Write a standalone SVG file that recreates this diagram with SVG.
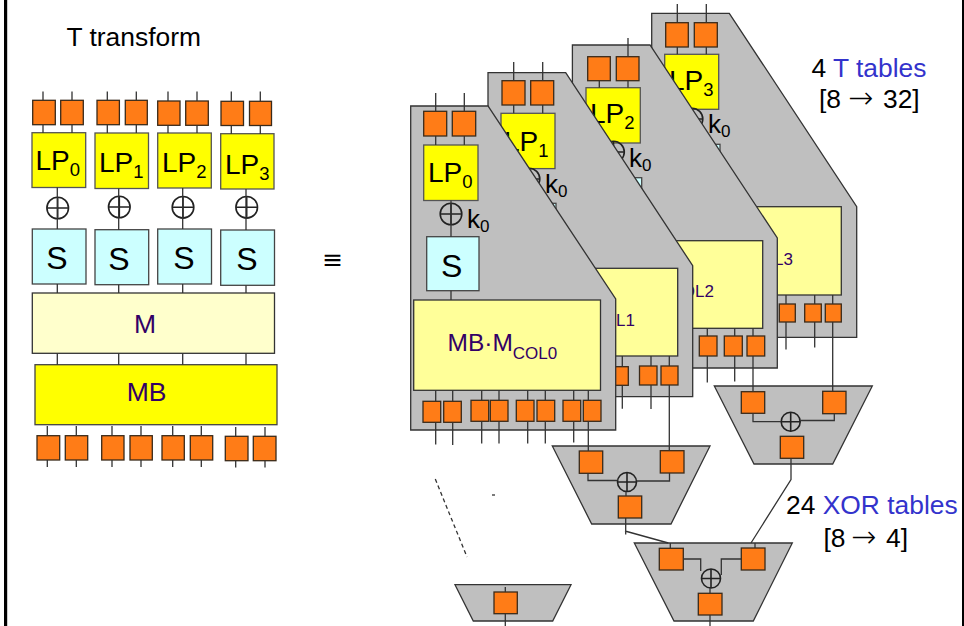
<svg xmlns="http://www.w3.org/2000/svg" xmlns:xlink="http://www.w3.org/1999/xlink" width="964" height="626" viewBox="0 0 964 626">
<style>
text{font-family:"Liberation Sans",Arial,sans-serif;fill:#000}
.t{font-size:26.4px}
.lp{font-size:28px}
.s{font-size:32px;text-anchor:middle}
.k{font-size:26px}
.pu{fill:#330066}
.bl{fill:#3333cc}
.dj{font-family:"DejaVu Sans",sans-serif}
.ar{font-family:"DejaVu Sans Light","DejaVu Sans ExtraLight","DejaVu Sans",sans-serif;font-weight:200}
.o{fill:#ff7c17;stroke:#3a2a1a;stroke-width:1.3}
.y{fill:#ffff00;stroke:#555;stroke-width:1.3}
.c{fill:#ccffff;stroke:#444;stroke-width:1.3}
.m{fill:#ffffcc;stroke:#333;stroke-width:1.3}
.mb{fill:#ffff00;stroke:#444;stroke-width:1.3}
.h{fill:#ffff99;stroke:#333;stroke-width:1.3}
.p{fill:#bfbfbf;stroke:#333;stroke-width:1.3}
.x{fill:none;stroke:#222;stroke-width:1.6}
.l{fill:none;stroke:#333;stroke-width:1.3}
</style>
<defs>
<g id="xor" class="x"><circle r="10.8"/><path d="M-10.8 0H10.8M0-10.8V10.8"/></g>
<g id="xs" class="x"><circle r="9.5"/><path d="M-9.5 0H9.5M0-9.5V9.5"/></g>
</defs>
<rect width="964" height="626" fill="#fff"/>
<g id="frame" fill="#000"><rect x="4" y="0" width="3.2" height="626"/><rect x="962" y="0" width="2" height="626"/></g>

<g id="title"><text class="t" x="66.5" y="46">T transform</text></g>

<g id="left-inputs">
<rect class="o" x="32.7" y="100.3" width="22.6" height="24.4"/><rect class="o" x="60.7" y="100.3" width="22.6" height="24.4"/>
<rect class="o" x="97" y="100.3" width="22.4" height="24.4"/><rect class="o" x="125.3" y="100.3" width="22" height="24.4"/>
<rect class="o" x="157.7" y="101" width="22.3" height="24.3"/><rect class="o" x="185.7" y="101" width="22.6" height="24.3"/>
<rect class="o" x="221" y="101.3" width="22.5" height="24.2"/><rect class="o" x="249.5" y="101.3" width="22" height="24.2"/>
</g>
<g id="left-lp0"><rect class="y" x="32" y="132.7" width="53.7" height="54.8"/><text class="lp" x="35.5" y="170">LP<tspan font-size="18.5" dy="6">0</tspan></text></g>
<g id="left-lp1"><rect class="y" x="95" y="133" width="53.5" height="55.5"/><text class="lp" x="99" y="171.5">LP<tspan font-size="18.5" dy="6">1</tspan></text></g>
<g id="left-lp2"><rect class="y" x="157.7" y="133" width="53.6" height="55"/><text class="lp" x="162" y="172">LP<tspan font-size="18.5" dy="6">2</tspan></text></g>
<g id="left-lp3"><rect class="y" x="220.7" y="133.7" width="53.3" height="55.3"/><text class="lp" x="225" y="174">LP<tspan font-size="18.5" dy="6">3</tspan></text></g>
<g id="left-xor"><use xlink:href="#xor" href="#xor" x="57.7" y="208"/><use xlink:href="#xor" href="#xor" x="119.3" y="207"/><use xlink:href="#xor" href="#xor" x="183" y="207.3"/><use xlink:href="#xor" href="#xor" x="246.7" y="207.3"/></g>
<g id="left-s0"><rect class="c" x="32.3" y="229" width="53.7" height="55"/><text class="s" x="57" y="269">S</text></g>
<g id="left-s1"><rect class="c" x="95" y="229.7" width="53.7" height="55"/><text class="s" x="119" y="269.5">S</text></g>
<g id="left-s2"><rect class="c" x="157.7" y="229" width="53.8" height="55"/><text class="s" x="184" y="269">S</text></g>
<g id="left-s3"><rect class="c" x="220.7" y="230" width="53.8" height="55.3"/><text class="s" x="247" y="269.5">S</text></g>
<g id="left-m"><rect class="m" x="32.3" y="293" width="242.2" height="60.3"/><text class="pu" x="145" y="333" font-size="26.5" text-anchor="middle">M</text></g>
<g id="left-mb"><rect class="mb" x="35" y="364.7" width="242" height="60"/><text class="pu" x="146.5" y="401" font-size="26.5" text-anchor="middle">MB</text></g>
<g id="left-outputs">
<rect class="o" x="37" y="435.7" width="22.7" height="24.3"/><rect class="o" x="65.3" y="435.7" width="22.4" height="24.3"/>
<rect class="o" x="101.7" y="435.7" width="22.3" height="24.3"/><rect class="o" x="130" y="435.7" width="22.3" height="24.3"/>
<rect class="o" x="162" y="435.7" width="22.3" height="24.3"/><rect class="o" x="190.3" y="435.7" width="22.4" height="24.3"/>
<rect class="o" x="225.3" y="436.3" width="22.7" height="24.4"/><rect class="o" x="253.3" y="436.3" width="22.7" height="24.4"/>
</g>

<g id="equiv"><text class="dj" x="332.7" y="268" font-size="25" text-anchor="middle">≡</text></g>

<g id="t-table-3">
<polygon class="p" points="651.7,13.3 729.3,13.3 856.7,206.7 856.7,337.3 651.7,337.3"/>
<rect class="o" x="665.7" y="22.7" width="22.6" height="24.3"/><rect class="o" x="694.3" y="22.7" width="23" height="24.3"/>
<rect class="y" x="664.7" y="54.3" width="54" height="55"/><text class="lp" x="669" y="90">LP<tspan font-size="18.5" dy="6">3</tspan></text>
<use xlink:href="#xor" href="#xor" x="692" y="119"/><text class="k" x="708" y="133">k<tspan font-size="17" dy="4">0</tspan></text>
<rect class="c" x="667.7" y="144.3" width="52.3" height="54"/>
<rect class="h" x="654.7" y="206.7" width="186.6" height="88.3"/>
<text class="pu" x="793" y="257" font-size="24.5" text-anchor="end">MB·M<tspan font-size="17" dy="8">COL3</tspan></text>
<rect class="o" x="779.3" y="304" width="16" height="18"/><rect class="o" x="804.7" y="304" width="16.6" height="18"/><rect class="o" x="825.3" y="304" width="16" height="18"/>
</g>

<g id="t-table-2">
<polygon class="p" points="572.4,45 650,45 777.3,238 777.3,368 572.4,368"/>
<rect class="o" x="587.7" y="56.7" width="22.6" height="24"/><rect class="o" x="616.3" y="56.7" width="22.7" height="24"/>
<rect class="y" x="586" y="87.7" width="54.3" height="55.3"/><text class="lp" x="590" y="123.3">LP<tspan font-size="18.5" dy="6">2</tspan></text>
<use xlink:href="#xor" href="#xor" x="613.5" y="152"/><text class="k" x="629" y="167">k<tspan font-size="17" dy="4">0</tspan></text>
<rect class="c" x="589.4" y="177.7" width="52.3" height="54"/>
<rect class="h" x="576" y="240.7" width="186.7" height="87.6"/>
<text class="pu" x="714" y="289" font-size="24.5" text-anchor="end">MB·M<tspan font-size="17" dy="8">COL2</tspan></text>
<rect class="o" x="699.3" y="336" width="17.7" height="20"/><rect class="o" x="724.3" y="336" width="18" height="20"/><rect class="o" x="747" y="336" width="17.7" height="20"/>
</g>

<g id="t-table-1">
<polygon class="p" points="488,72.7 565.7,72.7 692.7,265.7 692.7,396.7 488,396.7"/>
<rect class="o" x="502" y="80.7" width="23" height="24.3"/><rect class="o" x="530.7" y="80.7" width="23" height="24.3"/>
<rect class="y" x="501" y="113.3" width="54" height="55.3"/><text class="lp" x="504" y="150.7">LP<tspan font-size="18.5" dy="6">1</tspan></text>
<use xlink:href="#xor" href="#xor" x="529" y="179"/><text class="k" x="545" y="193">k<tspan font-size="17" dy="4">0</tspan></text>
<rect class="c" x="503.7" y="203.3" width="52.3" height="54"/>
<rect class="h" x="491" y="268.3" width="186.7" height="87.7"/>
<text class="pu" x="635" y="318" font-size="24.5" text-anchor="end">MB·M<tspan font-size="17" dy="8">COL1</tspan></text>
<rect class="o" x="610.5" y="366.7" width="17.8" height="18.6"/><rect class="o" x="639.5" y="366" width="17.5" height="19"/><rect class="o" x="661" y="366" width="17" height="19"/>
</g>

<g id="t-table-0">
<polygon class="p" points="410.7,106 488,106 615.7,299 615.7,430 410.7,430"/>
<rect class="o" x="423.7" y="111.3" width="23" height="24.7"/><rect class="o" x="452.3" y="111.3" width="23.4" height="24.7"/>
<rect class="y" x="423.7" y="145" width="54.3" height="55.5"/><text class="lp" x="428" y="181.7">LP<tspan font-size="18.5" dy="6">0</tspan></text>
<use xlink:href="#xor" href="#xor" x="451" y="214"/><text class="k" x="467" y="228">k<tspan font-size="17" dy="4">0</tspan></text>
<rect class="c" x="426.7" y="236.7" width="52.3" height="54"/><text class="s" x="451.7" y="276.7">S</text>
<rect class="h" x="413.7" y="300" width="186.8" height="90.3"/>
<text class="pu" x="447.5" y="350.7" font-size="24.5">MB·M<tspan font-size="17" dy="8">COL0</tspan></text>
<rect class="o" x="423" y="401.3" width="17.7" height="21"/><rect class="o" x="443.7" y="401.3" width="17.6" height="21"/>
<rect class="o" x="471" y="400.3" width="17.7" height="21"/><rect class="o" x="490.3" y="400.3" width="17.7" height="21"/>
<rect class="o" x="516.3" y="400.3" width="17.7" height="21"/><rect class="o" x="537" y="400.3" width="17.7" height="21"/>
<rect class="o" x="563" y="400.3" width="17.7" height="21"/><rect class="o" x="583.3" y="400.3" width="17.7" height="21"/>
</g>

<g id="xor-table-a">
<polygon class="p" points="714.3,386 872.3,386 832.7,464 754,464"/>
<rect class="o" x="741.3" y="391.7" width="23.4" height="21.6"/><rect class="o" x="822.7" y="391.3" width="23.3" height="22.4"/>
<use xlink:href="#xs" href="#xs" x="790.7" y="421.7"/>
<rect class="o" x="780.3" y="436.3" width="23.4" height="22"/>
</g>
<g id="xor-table-b">
<polygon class="p" points="552.3,446 710,446 671,524 591.7,524"/>
<rect class="o" x="579.3" y="451" width="23.4" height="22.3"/><rect class="o" x="660.3" y="450.7" width="23.7" height="22.3"/>
<use xlink:href="#xs" href="#xs" x="627" y="482"/>
<rect class="o" x="618.3" y="496" width="23.4" height="22"/>
</g>
<g id="xor-table-c">
<polygon class="p" points="634.3,543 792.3,543 753.3,621 674,621"/>
<rect class="o" x="659.3" y="548.3" width="24" height="21.7"/><rect class="o" x="741.3" y="548" width="23.7" height="22"/>
<use xlink:href="#xs" href="#xs" x="711" y="578.5"/>
<rect class="o" x="698.3" y="593.3" width="23.7" height="21.7"/>
</g>
<g id="xor-table-d">
<polygon class="p" points="455,584.7 571,584.7 552.7,621 473.3,621"/>
<rect class="o" x="494" y="592" width="23.3" height="21.7"/>
</g>

<g id="labels">
<text x="811.5" y="76.7" font-size="26.4">4 <tspan class="bl">T tables</tspan></text>
<text x="819" y="108" font-size="26.4">[8 <tspan class="ar" x="848" font-size="30">→</tspan><tspan x="883">32]</tspan></text>
<text x="786" y="514.3" font-size="26.4">24 <tspan class="bl">XOR tables</tspan></text>
<text x="823.5" y="547" font-size="26.4">[8 <tspan class="ar" x="851" font-size="30">→</tspan><tspan x="886">4]</tspan></text>
</g>

<g id="connectors" class="l">
<path d="M43 91.5V100M72 91.5V100M107.3 91.5V100M136.3 91.5V100M168 91.5V101M197 91.5V101M231.3 91.5V101M260.3 91.5V101"/>
<path d="M43 125V133M72 125V133M107.3 125V133M136.3 125V133M168 125V133M197 125V133M231.3 125.5V134M260.3 125.5V134"/>
<path d="M57.3 187.5V229M118.7 188.5V230M182.7 188V229M246 189V230"/>
<path d="M57.3 284V293M118.7 284.7V293M182.7 284V293M246 285.3V293"/>
<path d="M57.3 353.3V364.7M118.7 353.3V364.7M182.7 353.3V364.7M246 353.3V364.7"/>
<path d="M47.3 426V435.7M76.3 426V435.7M112 426V435.7M141 426V435.7M172.7 426V435.7M201.3 426V435.7M235.7 427V436.3M265 427V436.3"/>
<path d="M47.3 460V467M76.3 460V467M112 460V467M141 460V467M172.7 460V467M201.3 460V467M235.7 460.7V467.5M265 460.7V467.5"/>
<path d="M435.7 93V111.3M464.3 93V111.3M435.7 136V145M464.3 136V145M451 200.5V236.7M451 290.7V300"/>
<path d="M435.7 390.3V401.3M452.7 390.3V401.3M481.7 390.3V400.3M499 390.3V400.3M527.7 390.3V400.3M545.3 390.3V400.3M573.7 390.3V400.3M588.3 390.3V400.3"/>
<path d="M435.7 422.3V444.5M452.7 422.3V445M481.7 421.3V443.5M499 421.3V443.5M527.7 421.3V443.5M545.3 421.3V443.5M573.7 421.3V442.5M588.3 421.3V451"/>
<path d="M513.7 62V80.7M542.7 62V80.7M513.7 105V113.3M542.7 105V113.3"/>
<path d="M622.3 356V366.7M651 356V366M669.3 356V366M622.3 385.3V408.7M651 385V409M669.3 385V450.7"/>
<path d="M628 38V56.7M599.3 80.7V87.7M628 80.7V87.7"/>
<path d="M707.3 328.3V336M734.7 328.3V336M753 328.3V336M707.3 356V382.5M734.7 356V381.5M753 356V391.7"/>
<path d="M677.3 4V22.7M706.3 4V22.7M677.3 47V54.3M706.3 47V54.3"/>
<path d="M786 295V304M814.7 295V304M832.7 295V304M786 322V349.5M814.7 322V347.5M832.7 322V391.3"/>
<path d="M753 413.3V421.7H781.2M800.2 420.5H834.3V413.7"/>
<path d="M791 458.3V479.5L751 543M755 543V548"/>
<path d="M588 473.3V480.5H617.5M636.5 481H669.5V473M626 491.5V496M625.7 518V534.5M625 531L668.3 543M670.3 543V548.3"/>
<path d="M683.3 559H700.7V571M721.3 575V559H741.3M710 588V593.3M710 615V626"/>
<path d="M505.3 587V592M505.3 613.7V626"/>
<path d="M435.3 479L467 557" stroke-dasharray="4 3"/>
<path d="M492 495H495"/>
</g>
</svg>
